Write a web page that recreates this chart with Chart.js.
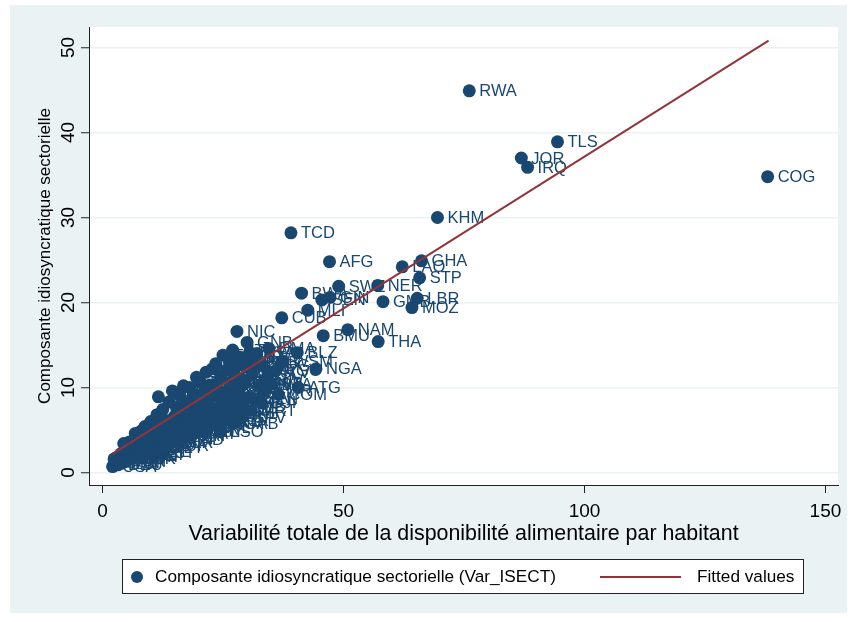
<!DOCTYPE html>
<html><head><meta charset="utf-8">
<script src="https://cdn.jsdelivr.net/npm/chart.js@4/dist/chart.umd.min.js"></script>
<style>html,body{margin:0;padding:0;background:#fff}canvas{display:block}</style>
</head><body>
<canvas id="c" width="850" height="622"></canvas>
<script>
// ---- data ----
const countries = [
 'RWA','TLS','JOR','IRQ','COG','KHM','TCD','AFG','GHA','LAO','STP','SWZ','NER','BWA','SEN','GIN','GMB','LBR','MOZ','MLI',
 'CUB','NIC','BMU','NAM','THA','GNB','BLZ','WSM','SLV','NGA','ATG','BEN','SLE','KIR','USA',
 'CAN','FRA','DEU','GBR','ITA','ESP','NLD','BEL','AUT','CHE','SWE','NOR','DNK','FIN','JPN','KOR','AUS','NZL','IRL','PRT',
 'GRC','ISR','LUX','ISL','MLT','CYP','SVN','CZE','SVK','POL','HUN','HRV','EST','LVA','LTU','ARG','CHL','URY','BRA','MEX',
 'CRI','PAN','TUR','MYS','CHN','RUS','UKR','BLR','KAZ','ROU','BGR','SRB','MKD','ALB','BIH','MNE','MDA','GEO','ARM','AZE',
 'IRN','SAU','ARE','KWT','OMN','BHR','QAT','LBN','SYR','EGY','TUN','MAR','DZA','LBY','IND','PAK','BGD','LKA','NPL','IDN',
 'PHL','VNM','MMR','MNG','KGZ','TJK','UZB','TKM','PER','COL','ECU','BOL','PRY','VEN','GTM','HND','DOM','JAM','HTI','TTO',
 'BRB','BHS','GUY','SUR','FJI','PNG','VUT','SLB','TON','KEN','TZA','UGA','ETH','ZMB','ZWE','MWI','MDG','CMR','CIV','BFA',
 'TGO','MRT','LSO','DJI','COM','CPV','GAB','AGO','DMA','SYC','MUS','LCA'
];
const xVals = [
 76.1, 94.4, 86.9, 88.2, 138.0, 69.5, 39.1, 47.1, 66.2, 62.2, 65.8, 49.0, 57.1, 41.3, 45.5, 47.2, 58.2, 65.3, 64.2, 42.6,
 37.2, 27.9, 45.8, 50.9, 57.2, 30.0, 40.4, 37.4, 34.8, 44.3, 40.6, 31.5, 28.4, 26.8, 2.1,
 2.6, 3.0, 3.2, 3.5, 3.8, 4.0, 4.3, 4.6, 4.9, 5.1, 5.4, 5.6, 5.9, 6.1, 2.4, 6.4, 6.6, 6.9, 7.1, 7.4,
 7.6, 7.9, 8.1, 8.3, 8.6, 8.8, 9.0, 9.3, 9.5, 9.8, 10.0, 10.3, 10.5, 10.8, 11.0, 11.3, 11.5, 11.8, 12.0, 12.3,
 12.5, 12.8, 13.0, 13.3, 13.5, 13.8, 14.0, 14.3, 14.5, 14.8, 15.0, 15.3, 15.5, 15.8, 16.0, 16.3, 16.5, 16.8, 17.0, 17.3,
 17.5, 17.8, 18.0, 18.3, 18.5, 18.8, 19.0, 19.3, 19.5, 19.8, 20.0, 20.3, 20.5, 20.8, 21.0, 21.3, 21.5, 21.8, 22.0, 22.3,
 22.5, 22.8, 23.0, 23.3, 23.5, 23.8, 24.0, 24.3, 24.5, 24.8, 25.0, 25.3, 25.5, 25.8, 26.0, 26.3, 26.5, 26.8, 27.0, 27.3,
 27.5, 27.8, 28.0, 28.3, 28.5, 28.8, 29.0, 29.3, 29.5, 29.8, 30.0, 30.5, 31.0, 31.5, 32.0, 32.5, 33.0, 33.5, 34.0, 35.0,
 36.0, 30.8, 24.5, 33.0, 36.5, 29.0, 27.2, 22.0, 34.5, 4.4, 6.8, 11.6
];
const yVals = [
 44.9, 38.9, 37.0, 35.9, 34.8, 30.0, 28.2, 24.8, 24.9, 24.2, 22.9, 21.9, 22.0, 21.1, 20.3, 20.6, 20.1, 20.5, 19.4, 19.1,
 18.2, 16.6, 16.1, 16.8, 15.4, 15.3, 14.1, 13.1, 11.8, 12.2, 10.0, 8.7, 9.9, 6.1, 0.7,
 1.2, 1.8, 0.9, 1.4, 2.2, 1.1, 1.7, 2.5, 1.3, 3.0, 2.0, 3.6, 1.6, 2.7, 1.6, 3.3, 2.2, 4.1, 2.9, 1.9,
 3.8, 2.6, 4.9, 3.2, 2.1, 5.4, 3.6, 2.5, 4.4, 3.0, 6.0, 3.9, 2.4, 5.0, 3.3, 6.8, 4.2, 2.9, 5.5, 3.7,
 7.4, 4.8, 3.2, 6.1, 4.0, 8.3, 5.2, 3.5, 9.6, 6.5, 4.4, 7.7, 3.9, 5.8, 9.1, 4.9, 7.0, 10.2, 5.4, 8.2,
 4.3, 6.3, 10.0, 7.4, 5.1, 9.0, 4.6, 6.9, 11.2, 8.0, 5.6, 10.6, 7.2, 4.8, 9.4, 6.1, 11.8, 8.3, 5.3, 10.3,
 7.0, 12.2, 9.0, 6.0, 12.8, 10.1, 7.6, 5.8, 11.3, 8.7, 13.8, 6.6, 12.0, 9.5, 7.4, 13.2, 10.6, 8.2, 14.4, 11.6,
 7.0, 12.7, 9.3, 13.6, 8.0, 11.0, 13.5, 7.6, 10.5, 12.4, 8.8, 14.1, 11.5, 13.0, 14.0, 10.2, 12.6, 9.6, 11.0, 10.4,
 12.0, 7.3, 4.8, 8.2, 9.2, 6.5, 5.8, 8.0, 14.6, 3.4, 4.6, 8.9
];
const fitX = [2.1, 138.2];
const fitY = [2.2, 50.8];
const xTitle = 'Variabilité totale de la disponibilité alimentaire par habitant';
const yTitle = 'Composante idiosyncratique sectorielle';
const scatterName = 'Composante idiosyncratique sectorielle (Var_ISECT)';
const fitName = 'Fitted values';

// ---- style ----
const NAVY = '#1a476f';
const MAROON = '#90353b';
const BG = '#eaf2f3';
const FONT = '"Liberation Sans", Arial, sans-serif';
Chart.defaults.font.family = FONT;
Chart.defaults.color = '#000';

const bgPlugin = {
  id: 'bg',
  beforeDraw(chart) {
    const {ctx, chartArea: a} = chart;
    ctx.save();
    ctx.fillStyle = '#fff';
    ctx.fillRect(0, 0, chart.width, chart.height);
    ctx.fillStyle = BG;
    ctx.fillRect(10, 5, 837, 608);
    ctx.fillStyle = '#fff';
    ctx.fillRect(a.left, a.top, a.right - a.left, a.bottom - a.top);
    ctx.restore();
  }
};

const labelPlugin = {
  id: 'pointLabels',
  beforeDatasetsDraw(chart) {
    const ctx = chart.ctx;
    const meta = chart.getDatasetMeta(1);
    ctx.save();
    ctx.font = '16.5px ' + FONT;
    ctx.fillStyle = NAVY;
    ctx.textBaseline = 'middle';
    ctx.textAlign = 'left';
    meta.data.forEach((el, i) => {
      ctx.fillText(countries[i], el.x + 10, el.y + 1);
    });
    ctx.restore();
  }
};

const yTickPlugin = {
  id: 'yTicks',
  afterDraw(chart) {
    const ctx = chart.ctx;
    const s = chart.scales.y;
    ctx.save();
    ctx.font = '19px ' + FONT;
    ctx.fillStyle = '#000';
    ctx.textAlign = 'center';
    ctx.textBaseline = 'alphabetic';
    s.ticks.forEach(t => {
      const y = s.getPixelForValue(t.value);
      ctx.save();
      ctx.translate(74, y);
      ctx.rotate(-Math.PI / 2);
      ctx.fillText(String(t.value), 0, 0);
      ctx.restore();
    });
    ctx.restore();
  }
};

const legendPlugin = {
  id: 'stataLegend',
  afterDraw(chart) {
    const ctx = chart.ctx;
    const ds = chart.data.datasets;
    ctx.save();
    ctx.fillStyle = '#fff';
    ctx.fillRect(122, 559, 681, 34);
    ctx.strokeStyle = '#222';
    ctx.lineWidth = 1;
    ctx.strokeRect(122.5, 559.5, 681, 34);
    const cy = 577;
    ctx.fillStyle = ds[1].backgroundColor;
    ctx.beginPath();
    ctx.arc(137, cy, 6, 0, Math.PI * 2);
    ctx.fill();
    ctx.font = '17.2px ' + FONT;
    ctx.fillStyle = '#000';
    ctx.textBaseline = 'middle';
    ctx.fillText(ds[1].label, 155, cy);
    ctx.strokeStyle = ds[0].borderColor;
    ctx.lineWidth = 2;
    ctx.beginPath();
    ctx.moveTo(600, cy);
    ctx.lineTo(681, cy);
    ctx.stroke();
    ctx.fillText(ds[0].label, 697, cy);
    ctx.restore();
  }
};

new Chart(document.getElementById('c'), {
  type: 'scatter',
  data: {
    datasets: [
      {
        label: fitName,
        data: fitX.map((x, i) => ({x: x, y: fitY[i]})),
        showLine: true,
        borderColor: MAROON,
        backgroundColor: MAROON,
        borderWidth: 2,
        pointRadius: 0,
        pointHoverRadius: 0,
        fill: false
      },
      {
        label: scatterName,
        data: xVals.map((x, i) => ({x: x, y: yVals[i]})),
        backgroundColor: NAVY,
        borderColor: NAVY,
        borderWidth: 0,
        pointRadius: 6.5,
        pointHoverRadius: 6.5
      }
    ]
  },
  options: {
    responsive: false,
    animation: false,
    devicePixelRatio: 1,
    layout: {padding: {left: 31, top: 27, right: 12, bottom: 71}},
    plugins: {legend: {display: false}, tooltip: {enabled: false}},
    scales: {
      x: {
        type: 'linear',
        min: -2.8, max: 152.6,
        afterFit(s) { s.height = 66; s.paddingLeft = 0; s.paddingRight = 0; },
        ticks: {stepSize: 50, includeBounds: false, font: {size: 19}, color: '#000', padding: 7, maxRotation: 0},
        grid: {drawOnChartArea: false, drawTicks: true, tickLength: 8, tickColor: '#222', tickWidth: 1},
        border: {display: true, color: '#222', width: 1},
        title: {display: true, text: xTitle, font: {size: 21.4}, color: '#000', padding: {top: 4, bottom: 4}}
      },
      y: {
        type: 'linear',
        min: -1.47, max: 52.41,
        afterFit(s) { s.width = 58; s.paddingTop = 0; s.paddingBottom = 0; },
        ticks: {stepSize: 10, includeBounds: false, display: false},
        grid: {drawOnChartArea: true, color: BG, lineWidth: 1.5, drawTicks: true, tickLength: 8, tickColor: '#222', tickWidth: 1},
        border: {display: true, color: '#222', width: 1},
        title: {display: true, text: yTitle, font: {size: 17}, color: '#000', padding: {top: 4, bottom: 4}}
      }
    }
  },
  plugins: [bgPlugin, labelPlugin, yTickPlugin, legendPlugin]
});
</script>
</body></html>
